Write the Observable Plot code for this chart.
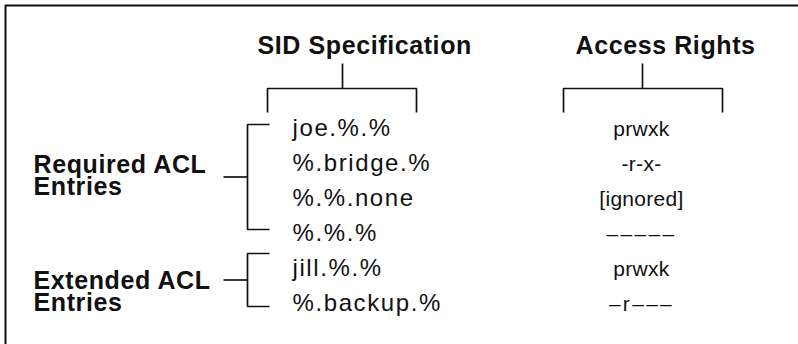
<!DOCTYPE html>
<html>
<head>
<meta charset="utf-8">
<script src="https://cdn.jsdelivr.net/npm/d3@7"></script>
<script src="https://cdn.jsdelivr.net/npm/@observablehq/plot@0.6"></script>
<style>
  html, body { margin: 0; padding: 0; background: #fff; }
  #chart svg { display: block; }
</style>
</head>
<body>
<div id="chart"></div>
<script>
// ---- data ----
const headings = ["SID Specification", "Access Rights"];
const sidSpecs = ["joe.%.%", "%.bridge.%", "%.%.none", "%.%.%", "jill.%.%", "%.backup.%"];
const accessRights = ["prwxk", "-r-x-", "[ignored]", "\u2013\u2013\u2013\u2013\u2013", "prwxk", "\u2013r\u2013\u2013\u2013"];
const groupLabels = ["Required ACL\nEntries", "Extended ACL\nEntries"];
const groupSizes = [4, 2];

// ---- layout (pixels) ----
const W = 798, H = 344;
const L = {
  rowFirst: 135, rowLast: 310,
  sidX: 292, rightsX: 641,
  headingX: [257, 575], headingBase: 53,
  headBrackets: [{stem: 342, left: 267, right: 416}, {stem: 642, left: 563, right: 722}],
  stemTop: 63, barY: 88, legBottom: 112,
  labelX: 33, labelLastBase: [194, 310],
  brX: 247, brTipX: 269, connX: 223,
  brTopOff: [-11, -22], brBotOff: [-11, -4]
};
const SPACING = {heading: "0.6px", "group-label": "0.6px", sid: "1.6px", rights: "0.3px", dashes: "2.3px"};
const INK = "#111";
const FONT = "'Liberation Sans', Arial, Helvetica, sans-serif";

// row positions through a Plot point scale
const rowScale = Plot.scale({y: {type: "point", domain: sidSpecs.map((d, i) => i), range: [L.rowFirst, L.rowLast], padding: 0}});
const rowY = i => rowScale.apply(i);

const rows = sidSpecs.map((sid, i) => ({i, sid, rights: accessRights[i]}));

// bracket paths
const segs = [];
const addPath = (id, pts) => pts.forEach(([x, y]) => segs.push({id, x, y}));
L.headBrackets.forEach((b, k) => {
  addPath("hb" + k, [[b.left, L.legBottom], [b.left, L.barY], [b.right, L.barY], [b.right, L.legBottom]]);
  addPath("hs" + k, [[b.stem, L.stemTop], [b.stem, L.barY]]);
});
let start = 0;
const groups = groupSizes.map((n, k) => {
  const first = start, last = start + n - 1;
  start += n;
  const top = rowY(first) + L.brTopOff[k];
  const bot = rowY(last) + L.brBotOff[k];
  const mid = (top + bot) / 2;
  addPath("sb" + k, [[L.brTipX, top], [L.brX, top], [L.brX, bot], [L.brTipX, bot]]);
  addPath("sc" + k, [[L.connX, mid], [L.brX, mid]]);
  return {label: groupLabels[k], y: L.labelLastBase[k]};
});

const chart = Plot.plot({
  width: W, height: H,
  marginTop: 5, marginLeft: 5, marginRight: 0, marginBottom: 0,
  x: {type: "linear", domain: [0, W], range: [0, W], axis: null},
  y: {type: "linear", domain: [0, H], range: [0, H], axis: null},
  style: {fontFamily: FONT, background: "#fff", color: INK},
  marks: [
    Plot.ruleY([5], {stroke: INK, strokeWidth: 2}),
    Plot.ruleX([5], {stroke: INK, strokeWidth: 2}),
    Plot.line(segs, {x: "x", y: "y", z: "id", stroke: INK, strokeWidth: 1.7, strokeLinejoin: "miter", strokeLinecap: "butt"}),
    Plot.text(headings, {x: (d, i) => L.headingX[i], y: () => L.headingBase, text: d => d,
      textAnchor: "start", lineAnchor: "bottom", fontSize: 25, fontWeight: "bold", fill: INK, fontFamily: FONT, ariaLabel: "heading"}),
    Plot.text(groups, {x: () => L.labelX, y: "y", text: "label", lineHeight: 0.88,
      textAnchor: "start", lineAnchor: "bottom", fontSize: 25, fontWeight: "bold", fill: INK, fontFamily: FONT, ariaLabel: "group-label"}),
    Plot.text(rows, {x: () => L.sidX, y: d => rowY(d.i), text: "sid",
      textAnchor: "start", lineAnchor: "bottom", fontSize: 24, fill: INK, fontFamily: FONT, ariaLabel: "sid"}),
    Plot.text(rows, {x: () => L.rightsX, y: d => rowY(d.i), text: "rights",
      textAnchor: "middle", lineAnchor: "bottom", fontSize: 21, fill: INK, fontFamily: FONT, ariaLabel: "rights"})
  ]
});

// letter spacing applied to the text mark groups (last four groups, in mark order)
const markGroups = Array.from(chart.children).filter(n => n.tagName.toLowerCase() === "g");
const textGroups = markGroups.slice(-4);
["heading", "group-label", "sid", "rights"].forEach((name, k) => {
  const g = textGroups[k];
  if (!g) return;
  g.querySelectorAll("text").forEach(t => {
    let ls = SPACING[name];
    if (name === "rights" && t.textContent.includes("\u2013")) ls = SPACING.dashes;
    t.setAttribute("letter-spacing", ls);
    t.style.letterSpacing = ls;
  });
});
document.getElementById("chart").appendChild(chart);
</script>
</body>
</html>
